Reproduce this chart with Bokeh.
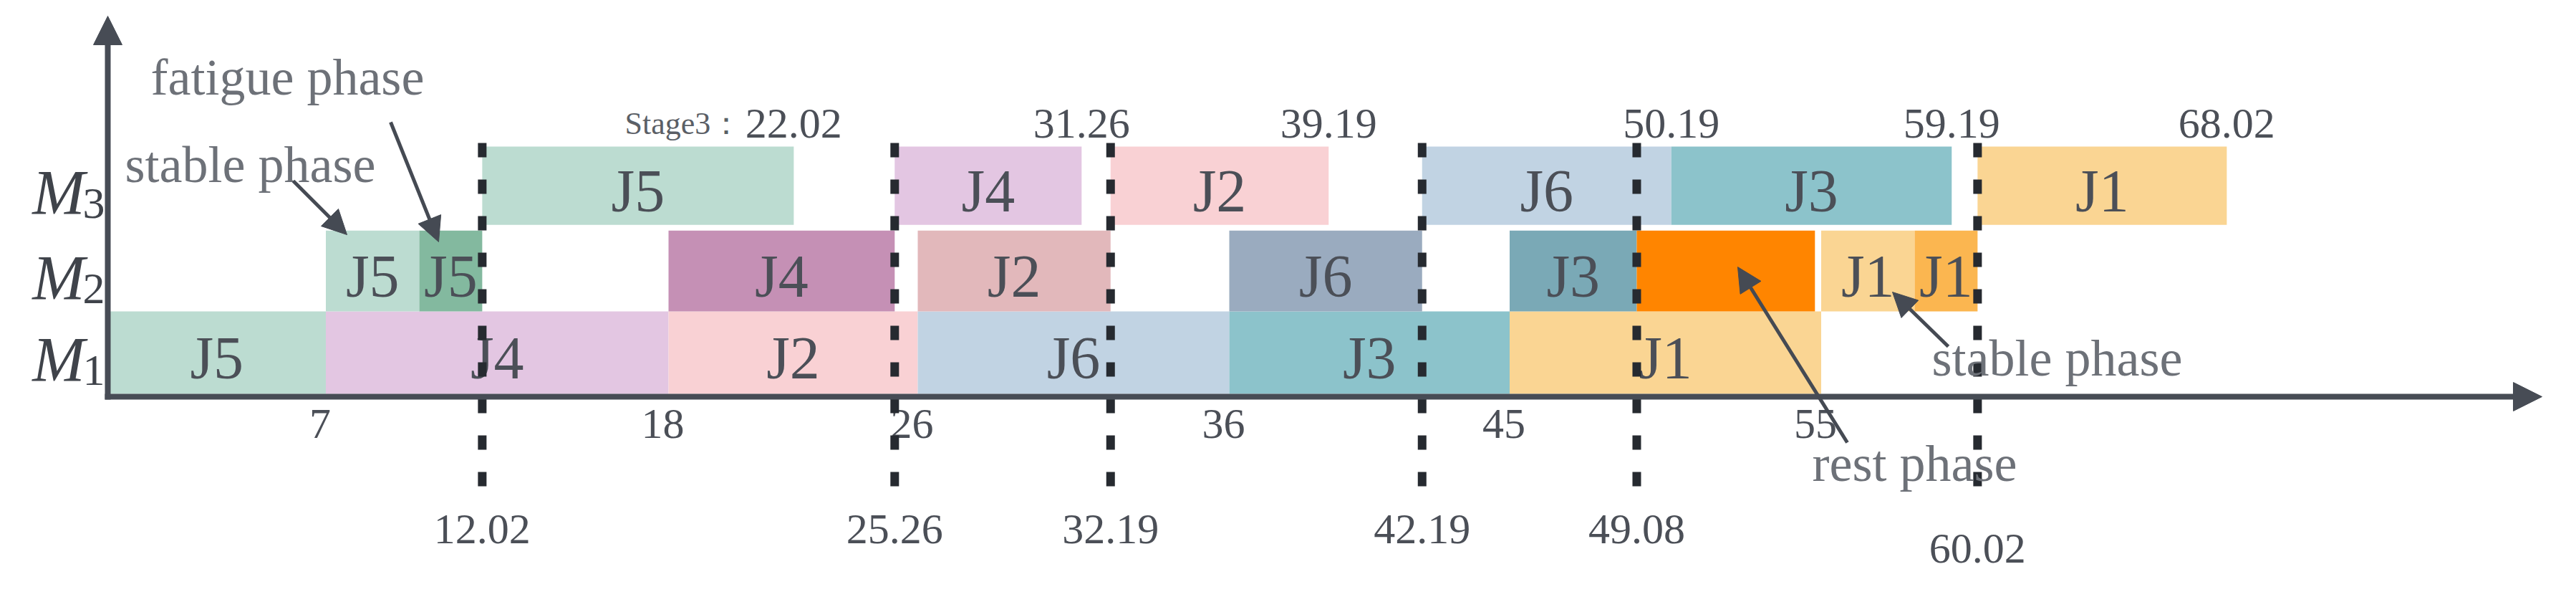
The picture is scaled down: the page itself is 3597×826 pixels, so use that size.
from bokeh.plotting import figure
from bokeh.models import Range1d, Arrow, NormalHead, ColumnDataSource
from bokeh.core.properties import value
from bokeh.embed import file_html
from bokeh.resources import INLINE

# ---------------- data ----------------
machines = ["M1", "M2", "M3"]
machine_sub = ["1", "2", "3"]

m1_jobs = ["J5", "J4", "J2", "J6", "J3", "J1"]
m1_start = [0, 7, 18, 26, 36, 45]
m1_end = [7, 18, 26, 36, 45, 55]

m2_jobs = ["J5", "J5", "J4", "J2", "J6", "J3", "", "J1", "J1"]
m2_start = [7, 10, 18, 26, 36, 45, 49.08, 55, 58]
m2_end = [10, 12.02, 25.26, 32.19, 42.19, 49.08, 54.8, 58, 60.02]

m3_jobs = ["J5", "J4", "J2", "J6", "J3", "J1"]
m3_start = [12.02, 25.26, 32.19, 42.19, 50.19, 60.02]
m3_end = [22.02, 31.26, 39.19, 50.19, 59.19, 68.02]

bottom_ticks = [7, 18, 26, 36, 45, 55]
stage_lines = [12.02, 25.26, 32.19, 42.19, 49.08, 60.02]
top_labels = [22.02, 31.26, 39.19, 50.19, 59.19, 68.02]

# ---------------- styles ----------------
m1_colors = ["#bcdcd1", "#e3c6e2", "#f9d1d4", "#c1d3e3", "#8cc3cb", "#fad593"]
m2_colors = ["#bcdcd1", "#83b99f", "#c590b5", "#e2b8bb", "#9aabbf", "#7aa9b6",
             "#ff8500", "#fad593", "#fbb650"]
m3_colors = ["#bcdcd1", "#e3c6e2", "#f9d1d4", "#c1d3e3", "#8cc3cb", "#fad593"]

row_bottom = [0.0, 1.0, 2.05]
row_top = [1.0, 1.98, 3.0]
stage_label_dy = [0, 0, 0, 0, 0, 27]

SERIF = value("Liberation Serif")
AXIS_C = "#474c55"
TXT_C = "#4b4f57"
NOTE_C = "#6d7178"

W, H = 3581, 810
X0, KX = 158.0, 43.5     # page px of time 0, px per time unit
Y0, KY = 557.0, 115.0    # page px of y=0, px per row unit


def tx(sx):
    return (sx - X0) / KX


def ty(sy):
    return (Y0 - sy) / KY


p = figure(width=W, height=H, output_backend="svg", toolbar_location=None,
           x_range=Range1d(tx(8), tx(8 + W)), y_range=Range1d(ty(8 + H), ty(8)),
           x_axis_type=None, y_axis_type=None, min_border=0,
           outline_line_color=None)
p.background_fill_color = "white"
p.border_fill_color = "white"

# ---------------- bars ----------------
left, right, bot, top, cols, labs = [], [], [], [], [], []
for i, (jobs, st, en, cs) in enumerate([(m1_jobs, m1_start, m1_end, m1_colors),
                                         (m2_jobs, m2_start, m2_end, m2_colors),
                                         (m3_jobs, m3_start, m3_end, m3_colors)]):
    for j, s, e, c in zip(jobs, st, en, cs):
        left.append(s)
        right.append(e)
        bot.append(row_bottom[i])
        top.append(row_top[i])
        cols.append(c)
        labs.append(j)

src = ColumnDataSource(dict(left=left, right=right, bottom=bot, top=top, color=cols))
p.quad(left="left", right="right", bottom="bottom", top="top", fill_color="color",
       line_color=None, source=src)

lab_x = [(l + r) / 2 for l, r, t in zip(left, right, labs) if t]
lab_y = [(b + t) / 2 for b, t, s in zip(bot, top, labs) if s]
lab_t = [t for t in labs if t]
p.text(x=lab_x, y=lab_y, text=lab_t, text_font=SERIF, text_font_size="84px",
       text_color=TXT_C, text_align="center", text_baseline="alphabetic", y_offset=7)

# ---------------- axes with arrows ----------------
p.add_layout(Arrow(end=NormalHead(size=40, fill_color=AXIS_C, line_color=AXIS_C),
                   x_start=tx(154), y_start=ty(561), x_end=tx(3557), y_end=ty(561),
                   line_color=AXIS_C, line_width=8))
p.add_layout(Arrow(end=NormalHead(size=40, fill_color=AXIS_C, line_color=AXIS_C),
                   x_start=0, y_start=ty(565), x_end=0, y_end=ty(30),
                   line_color=AXIS_C, line_width=8))

# machine labels
row_c = [(b + t) / 2 for b, t in zip(row_bottom, row_top)]
p.text(x=[tx(126)] * 3, y=row_c, text=["M"] * 3, text_font=SERIF,
       text_font_style="italic", text_font_size="88px", text_color="#3f434a",
       text_align="right", text_baseline="alphabetic", y_offset=9)
p.text(x=[tx(123)] * 3, y=row_c, text=machine_sub, text_font=SERIF,
       text_font_size="62px", text_color="#3f434a",
       text_align="left", text_baseline="alphabetic", y_offset=25)

# bottom tick labels
p.text(x=bottom_ticks, y=[0] * len(bottom_ticks), text=[str(v) for v in bottom_ticks],
       text_font=SERIF, text_font_size="60px", text_color=TXT_C, text_align="center",
       text_baseline="alphabetic", y_offset=42, x_offset=-8)

# top completion labels
p.text(x=top_labels, y=[3.0] * len(top_labels), text=["%.2f" % v for v in top_labels],
       text_font=SERIF, text_font_size="60px", text_color=TXT_C, text_align="center",
       text_baseline="alphabetic", y_offset=-32)
p.text(x=[top_labels[0]], y=[3.0], text=["Stage3："], text_font=SERIF,
       text_font_size="44px", text_color="#5b5f66", text_align="right",
       text_baseline="alphabetic", y_offset=-32, x_offset=-72)

# stage dashed lines and labels
p.segment(x0=stage_lines, y0=[ty(207)] * len(stage_lines), x1=stage_lines,
          y1=[ty(697)] * len(stage_lines), line_color="#262a30", line_width=12,
          line_dash="20 31", line_cap="butt")
for v, dy in zip(stage_lines, stage_label_dy):
    p.text(x=[v], y=[0], text=["%.2f" % v], text_font=SERIF, text_font_size="60px",
           text_color=TXT_C, text_align="center", text_baseline="alphabetic",
           y_offset=189 + dy)

# ---------------- annotations ----------------
notes = [("fatigue phase", 218, 115), ("stable phase", 182, 237),
         ("rest phase", 2538, 654), ("stable phase", 2705, 507)]
for t, sx, sy in notes:
    p.text(x=[tx(sx)], y=[ty(sy)], text=[t], text_font=SERIF, text_font_size="72px",
           text_color=NOTE_C, text_align="left", text_baseline="alphabetic")

arrows = [((417, 260), (492, 335)), ((553, 178), (620, 345)),
          ((2587, 625), (2434, 380)), ((2728, 491), (2650, 415))]
for (a, b) in arrows:
    p.add_layout(Arrow(end=NormalHead(size=34, fill_color="#454a53", line_color="#454a53"),
                       x_start=tx(a[0]), y_start=ty(a[1]), x_end=tx(b[0]), y_end=ty(b[1]),
                       line_color="#454a53", line_width=5))

open("out.html", "w").write(file_html(p, INLINE))
